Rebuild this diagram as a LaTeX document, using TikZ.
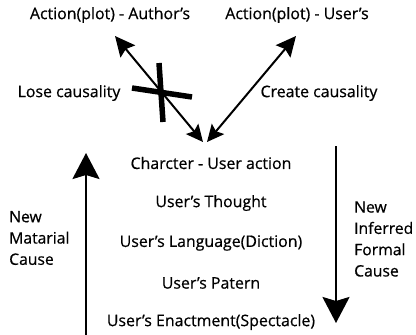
\documentclass[tikz,border=0pt]{standalone}
\usepackage{fontspec}
\setmainfont{Open Sans}[UprightFeatures={FakeBold=0.6}]
\usetikzlibrary{arrows.meta}
\begin{document}
\begin{tikzpicture}[x=1pt,y=-1pt,
  lbl/.style={font=\fontsize{15.9}{15.9}\selectfont, inner sep=0pt, anchor=center},
  side/.style={font=\fontsize{15.7}{21.3}\selectfont, inner sep=0pt, align=left},
  diag/.style={line width=2pt, {Stealth[length=20pt,width=19pt,inset=3pt]}-{Stealth[length=17pt,width=16pt,inset=3pt]}},
  vert/.style={line width=2.5pt, -{Stealth[length=26pt,width=27pt,inset=4pt]}},
  cross/.style={line width=5.5pt}]
\useasboundingbox (0,0) rectangle (416,335);

% top: the two kinds of plot
\node[lbl] (author) at (110,15) {Action(plot) - Author's};
\node[lbl] (user) at (297,15) {Action(plot) - User's};

\coordinate (atip) at (115,36);
\coordinate (utip) at (296,36);
\coordinate (cl) at (203,142);
\coordinate (cr) at (207,142);

\draw[diag] (atip) -- (cl);
\draw[diag] (utip) -- (cr);

% broken causality mark
\coordinate (x1) at (159,63);
\coordinate (x2) at (163,122);
\coordinate (x3) at (132,88);
\coordinate (x4) at (192,97);
\draw[cross] (x1) -- (x2);
\draw[cross] (x3) -- (x4);

\node[lbl] (lose) at (69,93) {Lose causality};
\node[lbl] (create) at (319,93) {Create causality};

% the stack of parts
\node[lbl] (charcter) at (211,163) {Charcter - User action};
\node[lbl] (thought) at (211,203) {User's Thought};
\node[lbl] (language) at (211,243) {User's Language(Diction)};
\node[lbl] (patern) at (211,283) {User's Patern};
\node[lbl] (enact) at (211,322) {User's Enactment(Spectacle)};

% causes
\coordinate (upbot) at (86,336);
\coordinate (uptop) at (86,153);
\draw[vert] (upbot) -- (uptop);
\coordinate (dntop) at (336,146);
\coordinate (dnbot) at (336,323);
\draw[vert] (dntop) -- (dnbot);

\node[side, anchor=west] (material) at (9,238) {New\\Matarial\\Cause};
\node[side, anchor=west] (formal) at (354,239) {New\\Inferred\\Formal\\Cause};
\end{tikzpicture}
\end{document}
